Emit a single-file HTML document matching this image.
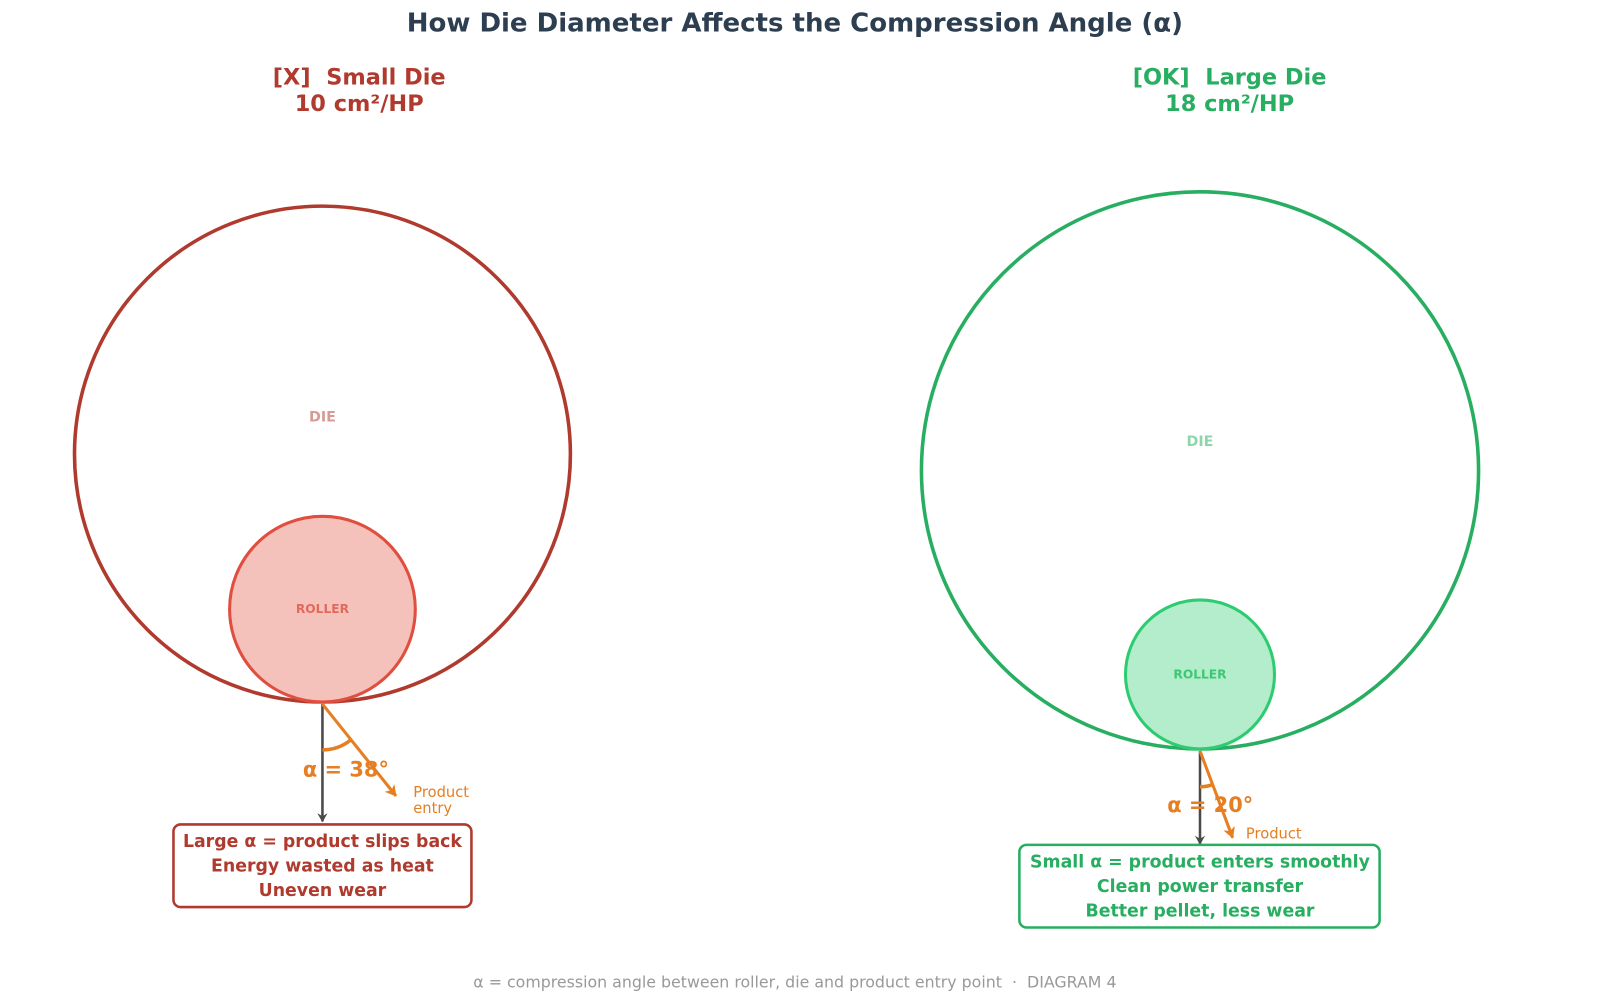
<!DOCTYPE html>
<html><head><meta charset="utf-8"><style>
html,body{margin:0;padding:0;background:#fff;}
svg{display:block;font-family:"DejaVu Sans","Liberation Sans",sans-serif;}
</style></head><body>
<svg width="1600" height="1003" viewBox="0 0 1568 983" preserveAspectRatio="none" xmlns="http://www.w3.org/2000/svg">
<defs>
<marker id="ag" markerWidth="10" markerHeight="10" refX="8" refY="5" orient="auto" markerUnits="userSpaceOnUse"><path d="M0,0 L9,5 L0,10 L3,5 z" fill="#4a4a4a"/></marker>
<marker id="ao" markerWidth="12" markerHeight="12" refX="10" refY="6" orient="auto" markerUnits="userSpaceOnUse"><path d="M0,0 L11,6 L0,12 L3,6 z" fill="#e67e22"/></marker>
</defs>
<text x="779" y="31" text-anchor="middle" font-size="25.5" font-weight="bold" fill="#2c3e50">How Die Diameter Affects the Compression Angle (α)</text>

<text x="352" y="83" text-anchor="middle" font-size="22" font-weight="bold" fill="#b03a2e">[X]&#160; Small Die</text>
<text x="352" y="109" text-anchor="middle" font-size="22" font-weight="bold" fill="#b03a2e">10 cm²/HP</text>
<text x="1205" y="83" text-anchor="middle" font-size="22" font-weight="bold" fill="#27ae60">[OK]&#160; Large Die</text>
<text x="1205" y="109" text-anchor="middle" font-size="22" font-weight="bold" fill="#27ae60">18 cm²/HP</text>

<!-- left -->
<circle cx="316" cy="445" r="243" fill="none" stroke="#b03a2e" stroke-width="3.5"/>
<text x="316" y="413" text-anchor="middle" font-size="14" font-weight="bold" fill="#d89a93">DIE</text>
<circle cx="316" cy="597" r="91" fill="#f5c1bb" stroke="#e04e3f" stroke-width="3"/>
<text x="316" y="601" text-anchor="middle" font-size="12" font-weight="bold" fill="#e06a5c">ROLLER</text>
<line x1="316" y1="690" x2="316" y2="805" stroke="#4a4a4a" stroke-width="2.5" marker-end="url(#ag)"/>
<line x1="316" y1="690" x2="388" y2="780" stroke="#e67e22" stroke-width="3" marker-end="url(#ao)"/>
<path d="M316,735 A45,45 0 0 0 344,725" fill="none" stroke="#e67e22" stroke-width="3.5"/>
<text x="339" y="761" text-anchor="middle" font-size="20.5" font-weight="bold" fill="#e67e22">α = 38°</text>
<text x="405" y="781" font-size="14.4" fill="#e67e22">Product</text>
<text x="405" y="797" font-size="14.4" fill="#e67e22">entry</text>
<rect x="170" y="808" width="292" height="81" rx="7" fill="#fff" stroke="#b03a2e" stroke-width="2.5"/>
<text x="316" y="830" text-anchor="middle" font-size="17" font-weight="bold" fill="#b03a2e">Large α = product slips back</text>
<text x="316" y="854" text-anchor="middle" font-size="17" font-weight="bold" fill="#b03a2e">Energy wasted as heat</text>
<text x="316" y="878" text-anchor="middle" font-size="17" font-weight="bold" fill="#b03a2e">Uneven wear</text>

<!-- right -->
<circle cx="1176" cy="461" r="273" fill="none" stroke="#27ae60" stroke-width="3.5"/>
<text x="1176" y="437" text-anchor="middle" font-size="14" font-weight="bold" fill="#8fd4ad">DIE</text>
<circle cx="1176" cy="661" r="73" fill="#b4edcb" stroke="#2ecc71" stroke-width="3"/>
<text x="1176" y="665" text-anchor="middle" font-size="12" font-weight="bold" fill="#3cc872">ROLLER</text>
<line x1="1176" y1="736" x2="1176" y2="827" stroke="#4a4a4a" stroke-width="2.5" marker-end="url(#ag)"/>
<line x1="1176" y1="736" x2="1208" y2="821" stroke="#e67e22" stroke-width="3" marker-end="url(#ao)"/>
<path d="M1176,771 A35,35 0 0 0 1188,769" fill="none" stroke="#e67e22" stroke-width="3.5"/>
<text x="1186" y="796" text-anchor="middle" font-size="20.5" font-weight="bold" fill="#e67e22">α = 20°</text>
<text x="1221" y="822" font-size="14.4" fill="#e67e22">Product</text>
<rect x="999" y="828" width="353" height="81" rx="7" fill="#fff" stroke="#27ae60" stroke-width="2.5"/>
<text x="1176" y="850" text-anchor="middle" font-size="17" font-weight="bold" fill="#27ae60">Small α = product enters smoothly</text>
<text x="1176" y="874" text-anchor="middle" font-size="17" font-weight="bold" fill="#27ae60">Clean power transfer</text>
<text x="1176" y="898" text-anchor="middle" font-size="17" font-weight="bold" fill="#27ae60">Better pellet, less wear</text>

<text x="779" y="968" text-anchor="middle" font-size="15.5" fill="#999">α = compression angle between roller, die and product entry point &#160;·&#160; DIAGRAM 4</text>
</svg>
</body></html>
